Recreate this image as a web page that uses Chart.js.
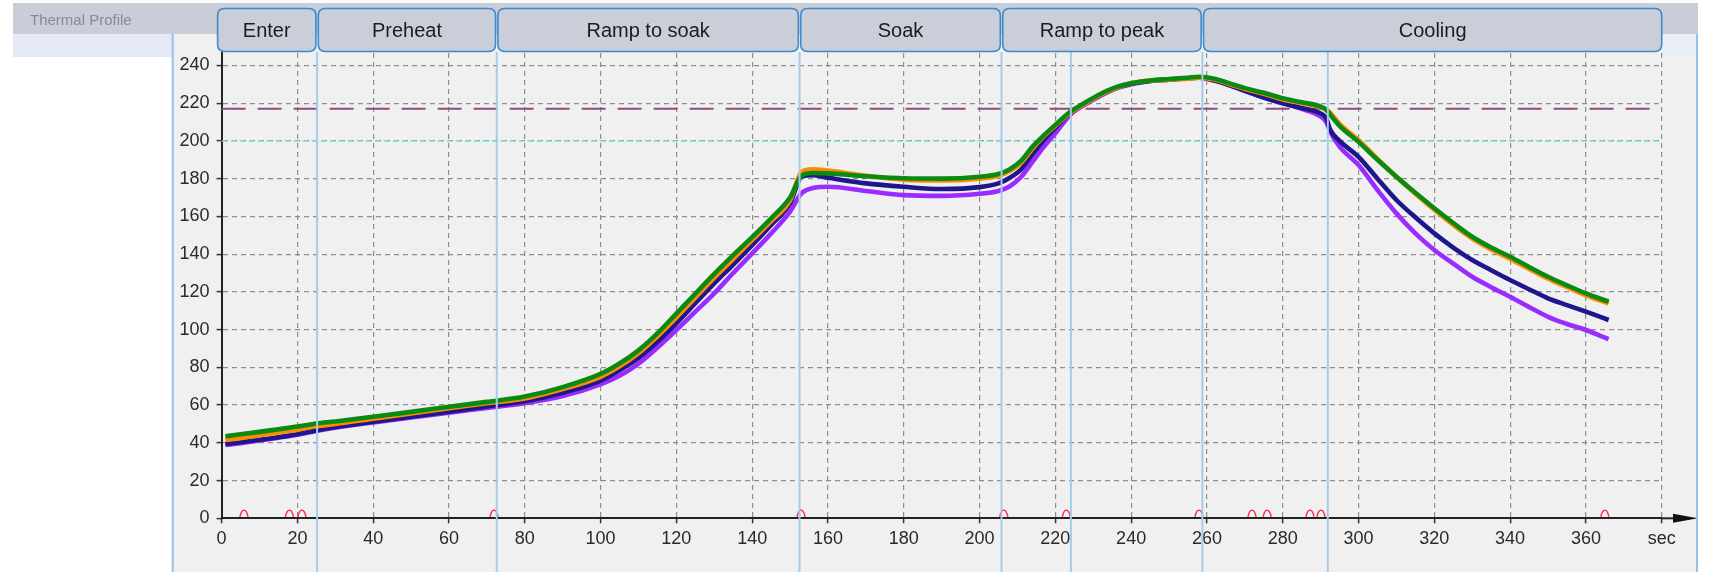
<!DOCTYPE html>
<html><head><meta charset="utf-8">
<script src="https://cdn.jsdelivr.net/npm/chart.js@4.4.0/dist/chart.umd.min.js"></script>
<style>html,body{margin:0;padding:0;background:#fff;overflow:hidden}#wrap{position:relative;width:1711px;height:572px}canvas{display:block}</style>
</head><body><div id="wrap"><canvas id="c" width="1711" height="572"></canvas></div>
<script>
// ---- data (seconds / °C) ----
const timeSec = [1,5,10,15,20,25,30,40,50,60,70,80,90,100,105,110,115,120,125,130,135,140,145,150,153,156,160,170,180,190,200,205,208,211,214,217,220,224,228,232,236,240,245,250,255,258,262,266,270,275,280,285,290,291.5,292.5,295,300,305,310,315,320,325,330,335,340,345,350,355,360,366];
const tempGreen = [43.5,44.5,45.8,47.2,48.6,50.2,51.3,53.8,56.4,59.1,61.7,64.5,69.5,76.5,82,89,98,108.5,119,129.5,139.5,149,159,170,181.5,183,182.8,181.3,180.2,180,181,182.5,185,189.5,197,203,208.5,215.5,220.5,225,228.5,230.5,232,232.8,233.5,234,233,230.5,228,225.5,222.6,220.5,218.2,216.5,214,208,199.5,190,181,172.5,164.3,156.5,149.2,143.5,138.6,133.2,128,123.5,119.2,114.8];
const tempOrange = [41.5,42.5,44,45.5,47,48.8,50,52.8,55.6,58.3,61,63.5,68.5,75,80.5,87.5,96.5,106.5,117,127.5,137.5,147.5,157.5,168.5,183.5,185,184.3,181.5,179.5,179,180,181.5,184,188.5,196,202.5,208,215,220,224.5,228,230.5,232,232.5,233,233.5,232.5,230,227.5,225,222,220,217.8,216.5,215,209,200.5,190.5,181,172,163.5,155.5,148.3,142.5,137.5,132.2,127,122.5,118.2,113.8];
const tempNavy = [39.4,40.3,41.6,43,44.6,46.6,48.4,51.2,53.9,56.5,59.3,62,66.5,73,78.5,85,93.5,103.3,114,124.5,134.5,144.8,155.5,166.9,181,181.8,180.5,177.5,175.7,174.5,175.5,177.5,180.5,185,193,200.5,207,215,220,224.5,228,230.3,231.8,232.5,233.2,233.6,232,229.5,226.5,223,220,217.5,214.6,212,206,200,191.6,180,168.7,159.5,151,143.5,136.9,131.5,126.3,121.4,116.6,113,109.5,105.1];
const tempPurple = [38.8,39.8,41.2,42.7,44.3,46.3,48,50.8,53.4,56,58.5,61,64.8,71,75.5,82,90.5,99.8,109.5,119.2,130,140.4,151,162.5,172.2,175,175.7,173.5,171.3,170.9,172,173.5,176,181,189,197,204,214,219.5,224,227.8,230,231.8,232.5,233.2,233.5,232,229.5,226.5,223,220,217,213,210,205,197,187.2,174,161.6,151,142.2,135,128,122.5,117.4,112,106.8,103,99.8,94.9];
const seriesColors = ['#0b8a12','#ff8c00','#1e168c','#9b2cff'];

const phaseNames = ['Enter','Preheat','Ramp to soak','Soak','Ramp to peak','Cooling'];
const phaseStarts = [0,25.2,72.6,152.5,205.8,258.8];
const phaseEnd = 380;
const liquidusCross = [224.1,291.9];
const eventMarks = [5.9,17.9,21.2,71.9,152.9,206.4,222.9,257.9,271.9,275.9,287.2,290.1,365];
const limitLines = [217,200];
const yTickValues = [0,20,40,60,80,100,120,140,160,180,200,220,240];
const xTickValues = [0,20,40,60,80,100,120,140,160,180,200,220,240,260,280,300,320,340,360,380];
const yAxisMax = 246.6, xUnitLabel = 'sec';

const FONT = "'Liberation Sans', Arial, sans-serif";

function series(vals){ return timeSec.map((t,i)=>({x:t,y:vals[i]})); }

const bgPlugin = {
  id:'bg',
  beforeDraw(chart){
    const c = chart.ctx; c.save();
    c.fillStyle='#ffffff'; c.fillRect(0,0,1711,572);
    c.fillStyle='#f0f0f0'; c.fillRect(173,34,1524,538);
    c.fillStyle='#c9cdd8'; c.fillRect(13,3,1685,31);
    c.fillStyle='#e5eaf6'; c.fillRect(13,34,159,23);
    c.fillStyle='#e8edf6'; c.fillRect(1663,34,34,23);
    c.fillStyle='#868b96'; c.font="15px "+FONT; c.textBaseline='alphabetic'; c.textAlign='left';
    c.fillText('Thermal Profile',30,25);
    c.restore();
  },
  beforeDatasetsDraw(chart){
    const c=chart.ctx, xs=chart.scales.x, ys=chart.scales.y; c.save();
    const x0=xs.getPixelForValue(0), x1=xs.getPixelForValue(phaseEnd);
    let y=ys.getPixelForValue(limitLines[1]);
    c.strokeStyle='#6fe6e0'; c.lineWidth=1.5; c.setLineDash([5,4]);
    c.beginPath(); c.moveTo(x0,y); c.lineTo(x1,y); c.stroke();
    y=ys.getPixelForValue(limitLines[0]);
    c.strokeStyle='#8a4c78'; c.lineWidth=2; c.setLineDash([24,12]);
    c.beginPath(); c.moveTo(x0,y); c.lineTo(x1,y); c.stroke();
    c.restore();
  },
  afterDatasetsDraw(chart){
    const c=chart.ctx, xs=chart.scales.x, ys=chart.scales.y; c.save();
    const yb=ys.getPixelForValue(0);
    c.strokeStyle='#ff3050'; c.lineWidth=1.5; c.setLineDash([]);
    eventMarks.forEach(t=>{
      const x=xs.getPixelForValue(t);
      c.beginPath(); c.moveTo(x-4,yb-1.5); c.quadraticCurveTo(x-2.5,yb-8.5,x,yb-8); c.quadraticCurveTo(x+2.5,yb-8.5,x+4,yb-1.5); c.stroke();
    });
    const xe=xs.getPixelForValue(phaseEnd);
    c.strokeStyle='#222'; c.lineWidth=2;
    c.beginPath(); c.moveTo(xe,yb); c.lineTo(1690,yb); c.stroke();
    c.fillStyle='#111'; c.beginPath(); c.moveTo(1673,yb-4.5); c.lineTo(1698,yb); c.lineTo(1673,yb+4.5); c.closePath(); c.fill();
    c.strokeStyle='#a6cbea'; c.lineWidth=2;
    phaseStarts.slice(1).concat(liquidusCross).forEach(t=>{
      const x=xs.getPixelForValue(t);
      c.beginPath(); c.moveTo(x,52); c.lineTo(x,572); c.stroke();
    });
    c.restore();
  },
  afterDraw(chart){
    const c=chart.ctx, xs=chart.scales.x; c.save();
    c.strokeStyle='#93c2ea'; c.lineWidth=2;
    c.beginPath(); c.moveTo(172.7,34); c.lineTo(172.7,572); c.stroke();
    c.beginPath(); c.moveTo(1697,34); c.lineTo(1697,572); c.stroke();
    const top=8.5, bot=51.5, r=7;
    phaseNames.forEach((name,i)=>{
      const s=phaseStarts[i], e=(i<phaseNames.length-1)?phaseStarts[i+1]:phaseEnd;
      const l = i===0 ? xs.getPixelForValue(s)-4 : xs.getPixelForValue(s)+1.2;
      const rt = i===phaseNames.length-1 ? xs.getPixelForValue(e) : xs.getPixelForValue(e)-1.2;
      c.beginPath();
      c.moveTo(l+r,top); c.lineTo(rt-r,top); c.quadraticCurveTo(rt,top,rt,top+r);
      c.lineTo(rt,bot-r); c.quadraticCurveTo(rt,bot,rt-r,bot);
      c.lineTo(l+r,bot); c.quadraticCurveTo(l,bot,l,bot-r);
      c.lineTo(l,top+r); c.quadraticCurveTo(l,top,l+r,top); c.closePath();
      c.fillStyle='#c9ced9'; c.fill();
      c.strokeStyle='#3a8bd0'; c.lineWidth=1.6; c.stroke();
      c.fillStyle='#1c1c1c'; c.font="20px "+FONT; c.textAlign='center'; c.textBaseline='middle';
      c.fillText(name,(l+rt)/2,31);
    });
    c.restore();
  }
};

const gridColor = ctx => (ctx.tick && ctx.tick.value===0) ? 'rgba(0,0,0,0)' : '#8e8e8e';

new Chart(document.getElementById('c'),{
  type:'line',
  data:{datasets:[
    {label:'TC1',data:series(tempGreen),borderColor:seriesColors[0]},
    {label:'TC2',data:series(tempOrange),borderColor:seriesColors[1]},
    {label:'TC3',data:series(tempNavy),borderColor:seriesColors[2]},
    {label:'TC4',data:series(tempPurple),borderColor:seriesColors[3]}
  ].map(d=>Object.assign(d,{borderWidth:4.6,pointRadius:0,fill:false,cubicInterpolationMode:'monotone'}))},
  options:{
    responsive:false, animation:false, devicePixelRatio:1,
    layout:{padding:{left:171.6,right:49.3,top:53,bottom:13.7}},
    plugins:{legend:{display:false},tooltip:{enabled:false}},
    scales:{
      x:{type:'linear',min:0,max:phaseEnd,
        afterFit:s=>{s.height=40;},
        afterBuildTicks:s=>{s.ticks=xTickValues.map(v=>({value:v}));},
        ticks:{color:'#2a2a2a',padding:5,font:{family:FONT,size:18},maxRotation:0,autoSkip:false,
          callback:v=> v===phaseEnd ? xUnitLabel : v},
        grid:{color:gridColor,lineWidth:1.2,tickLength:5,tickColor:'#333',tickWidth:1.5},
        border:{display:true,color:'#222',width:2,dash:[5,4]}},
      y:{type:'linear',min:0,max:yAxisMax,
        afterFit:s=>{s.width=50;},
        afterBuildTicks:s=>{s.ticks=yTickValues.map(v=>({value:v}));},
        ticks:{color:'#2a2a2a',padding:7,font:{family:FONT,size:18},autoSkip:false},
        grid:{color:gridColor,lineWidth:1.2,tickLength:5,tickColor:'#333',tickWidth:1.5},
        border:{display:true,color:'#222',width:2,dash:[5,4]}}
    }
  },
  plugins:[bgPlugin]
});
</script></body></html>
